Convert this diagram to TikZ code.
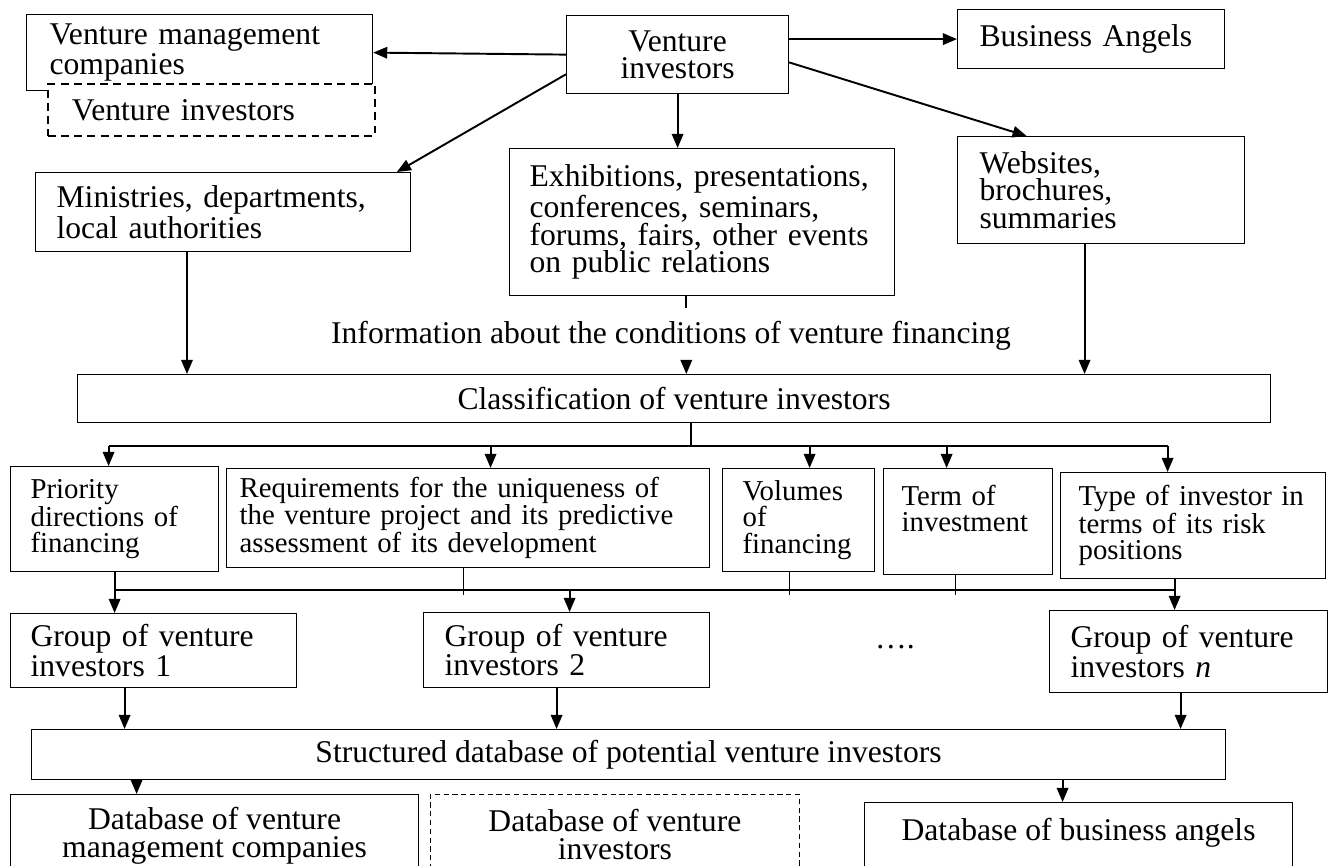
\documentclass[tikz,border=0pt]{standalone}
\usepackage{fontspec}
\setmainfont{Liberation Serif}
\usetikzlibrary{arrows.meta}
\newcommand{\mainsz}{\fontsize{18}{15.6}\selectfont}
\newcommand{\critsz}{\fontsize{16.4}{15}\selectfont}
\lineskiplimit=-\maxdimen
\begin{document}
\begin{tikzpicture}[x=0.02cm, y=-0.02cm, font=\mainsz,
  box/.style={draw, line width=0.7pt, anchor=north west, align=left, inner ysep=0pt},
  cbox/.style={draw, line width=0.7pt, anchor=north west, align=center},
  crit/.style={box, font=\critsz},
  arr/.style={-{Triangle[length=8pt,width=6.5pt]}, line width=1.1pt},
  bus/.style={line width=1.1pt},
  tick/.style={line width=0.6pt}]
  \useasboundingbox (0,0) rectangle (1331,865);
  \clip (0,0) rectangle (1331,865);

  \node[box, minimum width=6.92cm, minimum height=1.52cm, inner xsep=0.46cm, text width=6cm] (vmc) at (26,14) {Venture management\\companies};
  \node[box, fill=white, dash pattern=on 4.5pt off 3pt, line width=1.1pt, minimum width=6.54cm, minimum height=1.04cm, inner xsep=0.48cm, text width=5.58cm] (vinv) at (47,83) {Venture investors};
  \node[cbox, minimum width=4.44cm, minimum height=1.56cm] (vi) at (566,15) {Venture\\investors};
  \node[box, minimum width=5.34cm, minimum height=1.18cm, inner xsep=0.44cm, text width=4.46cm] (ba) at (957,9) {Business Angels};
  \node[box, minimum width=7.5cm, minimum height=1.58cm, inner xsep=0.42cm, text width=6.66cm] (min) at (35,172) {Ministries, departments,\\local authorities};
  \node[box, minimum width=7.7cm, minimum height=2.94cm, inner xsep=0.4cm, text width=6.9cm] (exh) at (509,148) {Exhibitions, presentations,\\conferences, seminars,\\forums, fairs, other events\\on public relations};
  \node[box, minimum width=5.74cm, minimum height=2.14cm, inner xsep=0.44cm, text width=4.86cm] (web) at (957,136) {Websites,\\brochures,\\summaries};
  \node[anchor=base, inner ysep=0.24cm] (info) at (671,343) {Information about the conditions of venture financing};
  \node[cbox, minimum width=23.86cm, minimum height=0.96cm] (cls) at (77,374) {Classification of venture investors};

  \node[crit, minimum width=4.16cm, minimum height=2.1cm, inner xsep=0.4cm, text width=3.36cm] (prio) at (10,466) {Priority\\directions of\\financing};
  \node[crit, minimum width=9.66cm, minimum height=1.98cm, inner xsep=0.26cm, text width=9.14cm] (req) at (226,468) {Requirements for the uniqueness of\\the venture project and its predictive\\assessment of its development};
  \node[crit, minimum width=3.04cm, minimum height=2.06cm, inner xsep=0.4cm, text width=2.24cm] (vol) at (722,468) {Volumes\\of\\financing};
  \node[crit, minimum width=3.38cm, minimum height=2.12cm, inner xsep=0.36cm, text width=2.66cm] (term) at (883,468) {Term of\\investment\\\mbox{}};
  \node[crit, minimum width=5.3cm, minimum height=2.12cm, inner xsep=0.36cm, text width=4.58cm] (type) at (1060,472) {Type of investor in\\terms of its risk\\positions};

  \node[box, minimum width=5.72cm, minimum height=1.48cm, inner xsep=0.4cm, text width=4.92cm] (g1) at (10,613) {Group of venture\\investors 1};
  \node[box, minimum width=5.72cm, minimum height=1.5cm, inner xsep=0.42cm, text width=4.88cm] (g2) at (423,612) {Group of venture\\investors 2};
  \node (dots) at (895,647) {….};
  \node[box, minimum width=5.56cm, minimum height=1.64cm, inner xsep=0.42cm, text width=4.72cm] (gn) at (1049,610) {Group of venture\\investors \textit{n}};
  \node[cbox, minimum width=23.88cm, minimum height=1cm] (sdb) at (31,729) {Structured database of potential venture investors};
  \node[cbox, minimum width=8.16cm, minimum height=1.64cm] (dbm) at (10,794) {Database of venture\\management companies};
  \node[cbox, dash pattern=on 3pt off 2pt, line width=0.5pt, minimum width=7.38cm, minimum height=1.6cm] (dbv) at (430,794) {Database of venture\\investors};
  \node[cbox, minimum width=8.56cm, minimum height=1.6cm] (dba) at (864,802) {Database of business angels\\\mbox{}};

  \draw[arr] (vi.west) -- (vmc.east);
  \draw[arr] (vi.east |- ba.west) -- (ba.west);
  \draw[arr] (vi.190) -- (min.13);
  \draw[arr] (vi.-4) -- (web.144);
  \draw[arr] (vi.south) -- (vi.south |- exh.north);
  \draw[arr] (min.228) -- (min.228 |- cls.north);
  \draw[bus] (exh.258) -- (exh.258 |- info.north);
  \draw[arr] (exh.258 |- info.south) -- (exh.258 |- cls.north);
  \draw[arr] (web.253) -- (web.253 |- cls.north);

  \coordinate (bus1) at (690,446);
  \coordinate (bus2) at (0,590);
  \draw[bus] (cls.-55) -- (cls.-55 |- bus1);
  \draw[bus] ([xshift=-0.12cm]prio.north |- bus1) -- ([xshift=-0.51cm]type.north |- bus1);
  \foreach \n/\s in {prio/-0.12, req/0.45, vol/0.22, term/-0.43, type/-0.51}
    \draw[arr] ([xshift=\s cm]\n.north |- bus1) -- ([xshift=\s cm]\n.north);

  \draw[bus] (prio.south |- bus2) -- ([xshift=-0.37cm]type.south |- bus2);
  \draw[arr] (prio.south) -- (prio.south |- g1.north);
  \draw[arr] ([xshift=-0.37cm]type.south) -- ([xshift=-0.37cm]type.south |- gn.north);
  \foreach \n/\s in {req/-0.09, vol/-0.18, term/-0.25}
    \draw[tick] ([xshift=\s cm]\n.south) -- ([xshift=\s cm, yshift=-0.1cm]\n.south |- bus2);
  \draw[arr] ([xshift=0.06cm]g2.north |- bus2) -- ([xshift=0.06cm]g2.north);

  \draw[arr] ([xshift=-0.58cm]g1.south) -- ([xshift=-0.58cm]g1.south |- sdb.north);
  \draw[arr] ([xshift=-0.2cm]g2.south) -- ([xshift=-0.2cm]g2.south |- sdb.north);
  \draw[arr] ([xshift=-0.16cm]gn.south) -- ([xshift=-0.16cm]gn.south |- sdb.north);
  \draw[arr] ([xshift=-1.56cm]dbm.north |- sdb.south) -- ([xshift=-1.56cm]dbm.north);
  \draw[arr] ([xshift=-0.32cm]dba.north |- sdb.south) -- ([xshift=-0.32cm]dba.north);
\end{tikzpicture}
\end{document}
